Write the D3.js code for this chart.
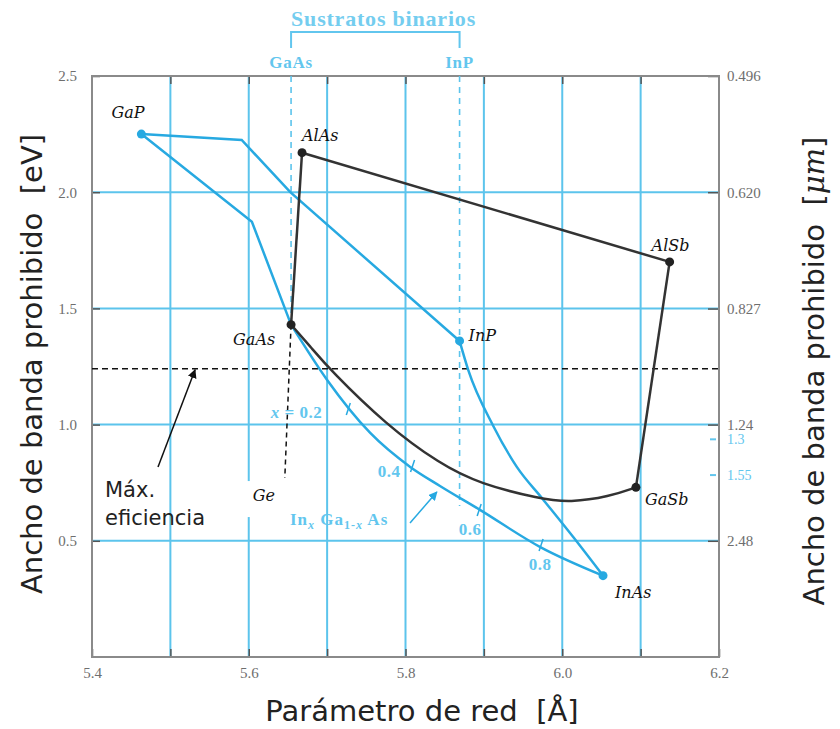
<!DOCTYPE html>
<html>
<head>
<meta charset="utf-8">
<script src="https://cdn.jsdelivr.net/npm/d3@7"></script>
<style>
  body { margin: 0; background: #fff; }
</style>
</head>
<body>
<div class="chart"></div>
<script>
// band gap (eV) vs lattice constant (Å) for III-V compounds

const xGrid = [5.5, 5.6, 5.7, 5.8, 5.9, 6.0, 6.1];
const xLabels = [5.4, 5.6, 5.8, 6.0, 6.2];
const yGrid = [0.5, 1.0, 1.5, 2.0];
const yLabels = [0.5, 1.0, 1.5, 2.0, 2.5];
const umLabels = ["0.496", "0.620", "0.827", "1.24", "2.48"];
const umBlueLabels = ["1.3", "1.55"];

// binaries: [name, lattice Å, gap eV]
const bluePoints = [["GaP", 5.463, 2.25], ["InP", 5.869, 1.36], ["InAs", 6.052, 0.35]];
const blackPoints = [["AlAs", 5.668, 2.17], ["GaAs", 5.654, 1.43], ["AlSb", 6.137, 1.70], ["GaSb", 6.094, 0.73]];

// ternary curves
const gapToInP = [[5.463, 2.25], [5.591, 2.225], [5.653, 2.0], [5.869, 1.36]];
const gapToGaAs = [[5.463, 2.25], [5.604, 1.873], [5.654, 1.43]];
const inpToInAs = [[5.869, 1.36], [5.880, 1.235], [5.912, 0.994], [5.942, 0.818], [5.975, 0.680], [6.014, 0.516], [6.052, 0.35]];
const gaasToInAs = [[5.654, 1.43], [5.700, 1.192], [5.755, 0.964], [5.806, 0.818], [5.844, 0.736], [5.895, 0.633], [5.972, 0.473], [6.052, 0.35]];
const gaasToGaSb = [[5.654, 1.43], [5.680, 1.33], [5.704, 1.235], [5.775, 1.0], [5.844, 0.83], [5.895, 0.745], [5.972, 0.68], [6.010, 0.665], [6.060, 0.69], [6.094, 0.73]];
const alAsToAlSb = [[5.668, 2.17], [6.137, 1.70]];
const alAsToGaAs = [[5.668, 2.17], [5.654, 1.43]];
const alSbToGaSb = [[6.137, 1.70], [6.094, 0.73]];

// In_x Ga_1-x As composition marks
const xMarks = ["0.2", "0.4", "0.6", "0.8"];
const xMarkA = [5.727, 5.809, 5.894, 5.973];
const xMarkEg = [1.067, 0.822, 0.633, 0.482];

const maxEff = 1.24;
const gePoint = [5.646, 0.77];
const gaasA = 5.654, inpA = 5.869;

const margin = {top: 76, right: 121, bottom: 72, left: 92},
  width = 840 - margin.left - margin.right,
  height = 729 - margin.top - margin.bottom;

const blue = "#27a9e1", gridBlue = "#5cc4ec", lightBlue = "#62c6ee", dark = "#333";

const x = d3.scaleLinear().domain([5.4, 6.2]).range([0, width]);
const y = d3.scaleLinear().domain([0, 2.5]).range([height, 0]);

const line = d3.line().x(d => x(d[0])).y(d => y(d[1]));
const smooth = d3.line().x(d => x(d[0])).y(d => y(d[1])).curve(d3.curveMonotoneX);
const basis = d3.line().x(d => x(d[0])).y(d => y(d[1])).curve(d3.curveBasis);

const svg = d3.select(".chart").append("svg")
    .attr("width", 840)
    .attr("height", 729);

const defs = svg.append("defs");
[["arrowBlack", "#111"], ["arrowBlue", blue]].forEach(([id, c]) => {
  defs.append("marker")
    .attr("id", id)
    .attr("viewBox", "0 0 10 10")
    .attr("refX", 9).attr("refY", 5)
    .attr("markerWidth", 6).attr("markerHeight", 6)
    .attr("orient", "auto")
    .append("path").attr("d", "M0,0L10,5L0,10z").attr("fill", c);
});

const g = svg.append("g")
    .attr("transform", "translate(" + margin.left + "," + margin.top + ")");

// grid
g.selectAll(".vgrid").data(xGrid).join("line")
  .attr("x1", d => x(d)).attr("x2", d => x(d))
  .attr("y1", 0).attr("y2", height)
  .attr("stroke", gridBlue).attr("stroke-width", 2);
g.selectAll(".hgrid").data(yGrid).join("line")
  .attr("x1", 0).attr("x2", width)
  .attr("y1", d => y(d)).attr("y2", d => y(d))
  .attr("stroke", gridBlue).attr("stroke-width", 2);

// axes
const tickFont = g => g.selectAll("text")
  .attr("font-family", "'Liberation Serif', serif")
  .attr("font-size", 15)
  .attr("fill", "#6e6e6e");
const tickLines = g => g.selectAll("line").attr("stroke", "#555").attr("stroke-width", 1.5);

g.append("g")
  .attr("transform", "translate(0," + height + ")")
  .call(d3.axisBottom(x).tickValues(d3.range(5.4, 6.25, 0.1))
    .tickSize(-8).tickPadding(10)
    .tickFormat(d => xLabels.some(v => Math.abs(v - d) < 1e-6) ? d3.format(".1f")(d) : ""))
  .call(g => g.select(".domain").remove())
  .call(tickFont).call(tickLines);

g.append("g")
  .call(d3.axisTop(x).tickValues(xGrid).tickSize(-8).tickFormat(""))
  .call(g => g.select(".domain").remove())
  .call(tickLines);

g.append("g")
  .call(d3.axisLeft(y).tickValues(yLabels).tickSize(-8).tickPadding(15)
    .tickFormat(d3.format(".1f")))
  .call(g => g.select(".domain").remove())
  .call(tickFont).call(tickLines);

g.append("g")
  .attr("transform", "translate(" + width + ",0)")
  .call(d3.axisRight(y).tickValues(umLabels.map(v => 1.24 / +v)).tickSize(-11).tickPadding(8)
    .tickFormat((d, i) => umLabels[i]))
  .call(g => g.select(".domain").remove())
  .call(tickFont).call(tickLines);

// blue wavelength marks (nudged down a little as in the source figure)
const um = g.append("g").attr("transform", "translate(" + width + ",4)");
um.selectAll("line").data(umBlueLabels).join("line")
  .attr("x1", -9).attr("x2", -3)
  .attr("y1", d => y(1.24 / +d)).attr("y2", d => y(1.24 / +d))
  .attr("stroke", lightBlue).attr("stroke-width", 2);
um.selectAll("text").data(umBlueLabels).join("text")
  .attr("x", 8).attr("y", d => y(1.24 / +d)).attr("dy", "0.36em")
  .attr("font-family", "'Liberation Serif', serif").attr("font-size", 14)
  .attr("fill", lightBlue).text(d => d);

g.append("rect")
  .attr("width", width).attr("height", height)
  .attr("fill", "none").attr("stroke", "#8a8a8a").attr("stroke-width", 2);

// substrate dashed lines
g.append("line")
  .attr("x1", x(gaasA)).attr("x2", x(gaasA)).attr("y1", 0).attr("y2", y(1.43))
  .attr("stroke", gridBlue).attr("stroke-width", 1.6).attr("stroke-dasharray", "6,5");
g.append("line")
  .attr("x1", x(inpA)).attr("x2", x(inpA)).attr("y1", 0).attr("y2", y(0.65))
  .attr("stroke", gridBlue).attr("stroke-width", 1.6).attr("stroke-dasharray", "6,5");

// white patch behind Ge label
g.append("rect")
  .attr("x", x(gePoint[0]) - 42).attr("y", y(gePoint[1]) + 3)
  .attr("width", 40).attr("height", 36).attr("fill", "#fff");

// max efficiency line
g.append("line")
  .attr("x1", 0).attr("x2", width).attr("y1", y(maxEff)).attr("y2", y(maxEff))
  .attr("stroke", "#111").attr("stroke-width", 1.5).attr("stroke-dasharray", "6,4");
g.append("line")
  .attr("x1", x(gaasA)).attr("y1", y(1.43))
  .attr("x2", x(gePoint[0])).attr("y2", y(gePoint[1]))
  .attr("stroke", "#111").attr("stroke-width", 1.5).attr("stroke-dasharray", "5,4");

// curves
[gapToInP, gapToGaAs].forEach(d => g.append("path").datum(d)
  .attr("d", line).attr("fill", "none").attr("stroke", blue).attr("stroke-width", 2.5));
[inpToInAs, gaasToInAs].forEach(d => g.append("path").datum(d)
  .attr("d", smooth).attr("fill", "none").attr("stroke", blue).attr("stroke-width", 2.5));
[alAsToAlSb, alAsToGaAs, alSbToGaSb].forEach(d => g.append("path").datum(d)
  .attr("d", line).attr("fill", "none").attr("stroke", dark).attr("stroke-width", 2.5));
g.append("path").datum(gaasToGaSb)
  .attr("d", basis).attr("fill", "none").attr("stroke", dark).attr("stroke-width", 2.5);

// composition marks
g.selectAll(".mark").data(xMarks).join("line")
  .attr("x1", (d, i) => x(xMarkA[i]) + 2).attr("x2", (d, i) => x(xMarkA[i]) - 2)
  .attr("y1", (d, i) => y(xMarkEg[i]) - 6).attr("y2", (d, i) => y(xMarkEg[i]) + 6)
  .attr("stroke", blue).attr("stroke-width", 1.5);

const markOff = {"0.2": [-26, 9, "end"], "0.4": [-12, 11, "end"], "0.6": [-9, 25, "middle"], "0.8": [-1, 25, "middle"]};
const markText = g.selectAll(".marktext").data(xMarks).join("text")
  .attr("x", (d, i) => x(xMarkA[i]) + markOff[d][0])
  .attr("y", (d, i) => y(xMarkEg[i]) + markOff[d][1])
  .attr("text-anchor", d => markOff[d][2])
  .attr("font-family", "'Liberation Serif', serif").attr("font-size", 17)
  .attr("letter-spacing", 0.5)
  .attr("font-weight", "bold").attr("fill", lightBlue);
markText.each(function(d) {
  const t = d3.select(this);
  if (d === "0.2") {
    t.append("tspan").attr("font-style", "italic").text("x");
    t.append("tspan").text(" = 0.2");
  } else t.text(d);
});

// In_x Ga_1-x As label
const ingaas = g.append("text")
  .attr("x", 290 - margin.left).attr("y", 525 - margin.top)
  .attr("font-family", "'Liberation Serif', serif").attr("font-size", 17)
  .attr("letter-spacing", 1)
  .attr("font-weight", "bold").attr("fill", lightBlue);
ingaas.append("tspan").text("In");
ingaas.append("tspan").attr("font-style", "italic").attr("font-size", 12).attr("dy", 4).text("x");
ingaas.append("tspan").attr("dy", -4).text(" Ga");
ingaas.append("tspan").attr("font-size", 12).attr("dy", 4).text("1-");
ingaas.append("tspan").attr("font-size", 12).attr("font-style", "italic").text("x");
ingaas.append("tspan").attr("dy", -4).text(" As");
g.append("line")
  .attr("x1", 410 - margin.left).attr("y1", 523 - margin.top)
  .attr("x2", x(5.84)).attr("y2", y(0.71))
  .attr("stroke", blue).attr("stroke-width", 1.5).attr("marker-end", "url(#arrowBlue)");

// points
g.selectAll(".bp").data(bluePoints).join("circle")
  .attr("cx", d => x(d[1])).attr("cy", d => y(d[2])).attr("r", 4.5).attr("fill", blue);
g.selectAll(".kp").data(blackPoints).join("circle")
  .attr("cx", d => x(d[1])).attr("cy", d => y(d[2])).attr("r", 4.5).attr("fill", "#222");

const labelOff = {GaP: [-30, -16], InP: [9, 0], InAs: [12, 22], AlAs: [0, -12],
  GaAs: [-58, 20], AlSb: [-18, -11], GaSb: [9, 18]};
g.selectAll(".plabel").data(bluePoints.concat(blackPoints)).join("text")
  .attr("x", d => x(d[1]) + labelOff[d[0]][0])
  .attr("y", d => y(d[2]) + labelOff[d[0]][1])
  .attr("font-family", "'DejaVu Serif', serif").attr("font-style", "italic")
  .attr("font-size", 16).attr("fill", "#111")
  .text(d => d[0]);
g.append("text")
  .attr("x", x(gePoint[0]) - 32).attr("y", y(gePoint[1]) + 23)
  .attr("font-family", "'DejaVu Serif', serif").attr("font-style", "italic")
  .attr("font-size", 16).attr("fill", "#111").text("Ge");

// max efficiency annotation
g.append("line")
  .attr("x1", 158 - margin.left).attr("y1", 467 - margin.top)
  .attr("x2", x(5.5315)).attr("y2", y(maxEff) + 1)
  .attr("stroke", "#111").attr("stroke-width", 1.5).attr("marker-end", "url(#arrowBlack)");
const eff = g.append("text")
  .attr("font-family", "'DejaVu Sans', sans-serif").attr("font-size", 21).attr("fill", "#222");
eff.append("tspan").attr("x", 105 - margin.left).attr("y", 497 - margin.top).text("Máx.");
eff.append("tspan").attr("x", 105 - margin.left).attr("y", 525 - margin.top).text("eficiencia");

// substrate bracket
g.append("path")
  .attr("d", "M" + x(gaasA) + ",-28V-44H" + x(inpA) + "V-28")
  .attr("fill", "none").attr("stroke", lightBlue).attr("stroke-width", 2);
g.append("text")
  .attr("x", x(gaasA)).attr("y", -50)
  .attr("font-family", "'Liberation Serif', serif").attr("font-size", 22)
  .attr("letter-spacing", 0.8)
  .attr("font-weight", "bold").attr("fill", "#74cdef").text("Sustratos binarios");
[["GaAs", gaasA], ["InP", inpA]].forEach(([t, a]) => g.append("text")
  .attr("x", x(a)).attr("y", -8).attr("text-anchor", "middle")
  .attr("font-family", "'Liberation Serif', serif").attr("font-size", 17)
  .attr("letter-spacing", 0.8)
  .attr("font-weight", "bold").attr("fill", lightBlue).text(t));

// axis titles
svg.append("text")
  .attr("transform", "translate(42,364) rotate(-90)")
  .attr("text-anchor", "middle")
  .attr("font-family", "'DejaVu Sans', sans-serif").attr("font-size", 29).attr("fill", "#222")
  .text("Ancho de banda prohibido\u00a0 [eV]");
const rt = svg.append("text")
  .attr("transform", "translate(824,371) rotate(-90)")
  .attr("text-anchor", "middle")
  .attr("font-family", "'DejaVu Sans', sans-serif").attr("font-size", 29).attr("fill", "#222");
rt.append("tspan").text("Ancho de banda prohibido\u00a0 [");
rt.append("tspan").attr("font-family", "'DejaVu Serif', serif").attr("font-style", "italic").text("μm");
rt.append("tspan").text("]");
svg.append("text")
  .attr("x", 422).attr("y", 721)
  .attr("text-anchor", "middle")
  .attr("font-family", "'DejaVu Sans', sans-serif").attr("font-size", 29).attr("fill", "#222")
  .text("Parámetro de red\u00a0 [Å]");
</script>
</body>
</html>
